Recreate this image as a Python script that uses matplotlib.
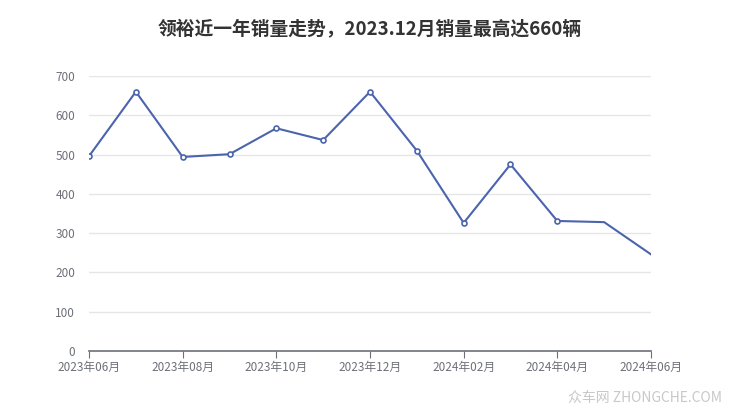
import matplotlib.pyplot as plt

plt.rcParams['font.family'] = ['Noto Sans CJK SC', 'DejaVu Sans']

months = ['2023年06月', '2023年07月', '2023年08月', '2023年09月', '2023年10月',
          '2023年11月', '2023年12月', '2024年01月', '2024年02月', '2024年03月',
          '2024年04月', '2024年05月', '2024年06月']
sales = [496, 660, 494, 501, 567, 537, 660, 510, 326, 475, 331, 328, 246]
y_ticks = [0, 100, 200, 300, 400, 500, 600, 700]

line_color = '#4b64ad'

fig = plt.figure(figsize=(7.4, 4.17), dpi=100)
ax = fig.add_axes([0.1203, 0.1583, 0.7594, 0.6594])

x = list(range(len(months)))
ax.plot(x, sales, color=line_color, linewidth=1.5, zorder=3)
# small hollow markers (last two points drawn without)
ax.plot(x[:11], sales[:11], linestyle='none', marker='o', markersize=3.6,
        markerfacecolor='white', markeredgecolor=line_color, markeredgewidth=1.2, zorder=4)

ax.set_xlim(0, len(months) - 1)
ax.set_ylim(0, 700)
ax.set_yticks(y_ticks)
ax.set_yticklabels([str(v) for v in y_ticks])
ax.set_xticks(x[::2])
ax.set_xticklabels(months[::2])

ax.grid(axis='y', color='#e6e6e6', linewidth=1)
ax.set_axisbelow(True)
for side in ['top', 'right', 'left']:
    ax.spines[side].set_visible(False)
ax.spines['bottom'].set_color('#6e7079')
ax.spines['bottom'].set_linewidth(1.2)

ax.tick_params(axis='y', length=0, labelsize=8.5, labelcolor='#6e7079', pad=10)
ax.tick_params(axis='x', length=5, color='#6e7079', labelsize=8.5, labelcolor='#6e7079', pad=2)

fig.text(0.5, 0.928, '领裕近一年销量走势，2023.12月销量最高达660辆', ha='center', va='center',
         fontsize=13.5, fontweight='bold', color='#333333')
fig.text(0.975, 0.045, '众车网 ZHONGCHE.COM', ha='right', va='center',
         fontsize=10, color='#c8c8c8')

fig.savefig('out.png', dpi=100)
